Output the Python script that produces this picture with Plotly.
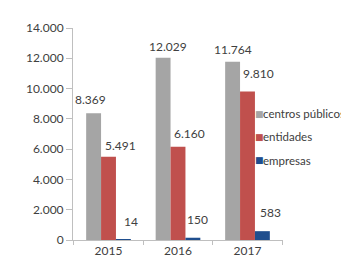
import plotly.graph_objects as go

years = ["2015", "2016", "2017"]
series_names = ["centros públicos", "entidades", "empresas"]
centros = [8369, 12029, 11764]
entidades = [5491, 6160, 9810]
empresas = [14, 150, 583]
y_ticks = [0, 2000, 4000, 6000, 8000, 10000, 12000, 14000]

values = [centros, entidades, empresas]
colors = ["#a5a5a5", "#c0504d", "#1f4e8e"]
# manual label nudges (px) as in the original chart: (dx, dy-up)
label_nudge = [
    [(-3, 14), (5, 11), (0.5, 12)],
    [(11.5, 11), (11.5, 13), (11, 18)],
    [(7.5, 18), (4, 18), (8, 19)],
]

font = "Lato, Open Sans, sans-serif"
txt = "#404040"

L, R, T, B = 65, 74, 19, 23
W, H = 349, 262
PW, PH = W - L - R, H - T - B
bargap = 0.357
cat_px = PW / len(years)
bar_px = cat_px * (1 - bargap) / len(series_names)

fig = go.Figure()
for i, (name, vals) in enumerate(zip(series_names, values)):
    fig.add_trace(go.Bar(x=years, y=vals, name=name, marker_color=colors[i],
                         marker_line_width=0, showlegend=False))
    off = (i - 1) * bar_px
    for j, v in enumerate(vals):
        dx, dy = label_nudge[i][j]
        fig.add_annotation(x=j, y=v, text=f"{v:,}".replace(",", "."),
                           showarrow=False, xshift=off + dx, yshift=dy,
                           font=dict(family=font, size=12, color=txt),
                           xanchor="center", yanchor="middle")

# legend drawn as text (small squares close to the labels, as in the original)
leg_y = [108, 132, 156]
for i, name in enumerate(series_names):
    yp = 1 - (leg_y[i] - T) / PH
    fig.add_annotation(xref="paper", yref="paper", x=(246 - L) / PW, y=yp,
                       text="■", showarrow=False, xanchor="left", yanchor="middle",
                       borderpad=0, font=dict(family="DejaVu Sans", size=9, color=colors[i]))
    fig.add_annotation(xref="paper", yref="paper", x=(254 - L) / PW, y=yp,
                       text=name, showarrow=False, xanchor="left", yanchor="middle",
                       borderpad=0, font=dict(family=font, size=11.5, color=txt))

fig.update_layout(
    width=W, height=H, margin=dict(l=L, r=R, t=T, b=B),
    barmode="group", bargap=bargap, bargroupgap=0,
    plot_bgcolor="white", paper_bgcolor="white",
    separators=",.",
    font=dict(family=font, size=12, color=txt),
)
fig.update_yaxes(range=[0, 14000], tickvals=y_ticks, tickformat=",d",
                 showgrid=False, zeroline=False, showline=True, linecolor="#bfbfbf",
                 ticks="outside", ticklen=6, tickcolor="#bfbfbf",
                 tickfont=dict(family=font, size=12, color=txt))
fig.update_xaxes(type="category", showgrid=False, showline=True, linecolor="#bfbfbf",
                 ticks="outside", tickson="boundaries", ticklen=4, tickcolor="#bfbfbf",
                 tickangle=0, tickfont=dict(family=font, size=12, color=txt))

fig.write_html("out.html")
